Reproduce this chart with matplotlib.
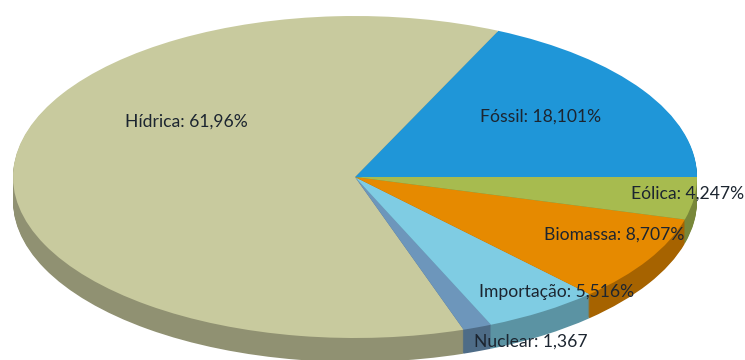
import matplotlib
matplotlib.use("Agg")
import matplotlib.pyplot as plt
from matplotlib.colors import to_rgb

categories = ["Fóssil", "Hídrica", "Nuclear", "Importação", "Biomassa", "Eólica"]
values = [18.101, 61.96, 1.367, 5.516, 8.707, 4.247]
value_labels = ["18,101%", "61,96%", "1,367", "5,516%", "8,707%", "4,247%"]
colors = ["#1f96d8", "#c8ca9e", "#6d96bb", "#7fcce3", "#e68a00", "#a7bb4f"]
label_px = [(541, 117), (186, 122), (531, 342), (557, 292), (614, 235), (688, 194)]

W, H = 745, 360
cx, cy, rx, ry, depth = 355, 177, 342, 161, 24

fig = plt.figure(figsize=(W / 100, H / 100), dpi=100, facecolor="white")
ax = fig.add_axes([0, 0, 1, 1])


def shade(c, f):
    return tuple(v * f for v in to_rgb(c))


side = [shade(c, 0.72) for c in colors]
n_layers = 24
for i in range(n_layers, 0, -1):
    off = -depth / ry * i / n_layers
    ax.pie(values, colors=side, startangle=0, counterclock=True, normalize=True,
           center=(0, off), radius=1, wedgeprops={"linewidth": 0.6, "edgecolor": "none"})
ax.pie(values, colors=colors, startangle=0, counterclock=True, normalize=True,
       center=(0, 0), radius=1, wedgeprops={"linewidth": 0})

ax.set_aspect("auto")
ax.set_xlim(-cx / rx, (W - cx) / rx)
ax.set_ylim((cy - H) / ry, cy / ry)
ax.axis("off")

for name, val, (px, py) in zip(categories, value_labels, label_px):
    ax.text((px - cx) / rx, (cy - py) / ry, f"{name}: {val}", ha="center", va="center",
            fontsize=12.6, family="Lato", color="#1c2530", zorder=20)

fig.savefig("out.png", dpi=100, facecolor="white")
